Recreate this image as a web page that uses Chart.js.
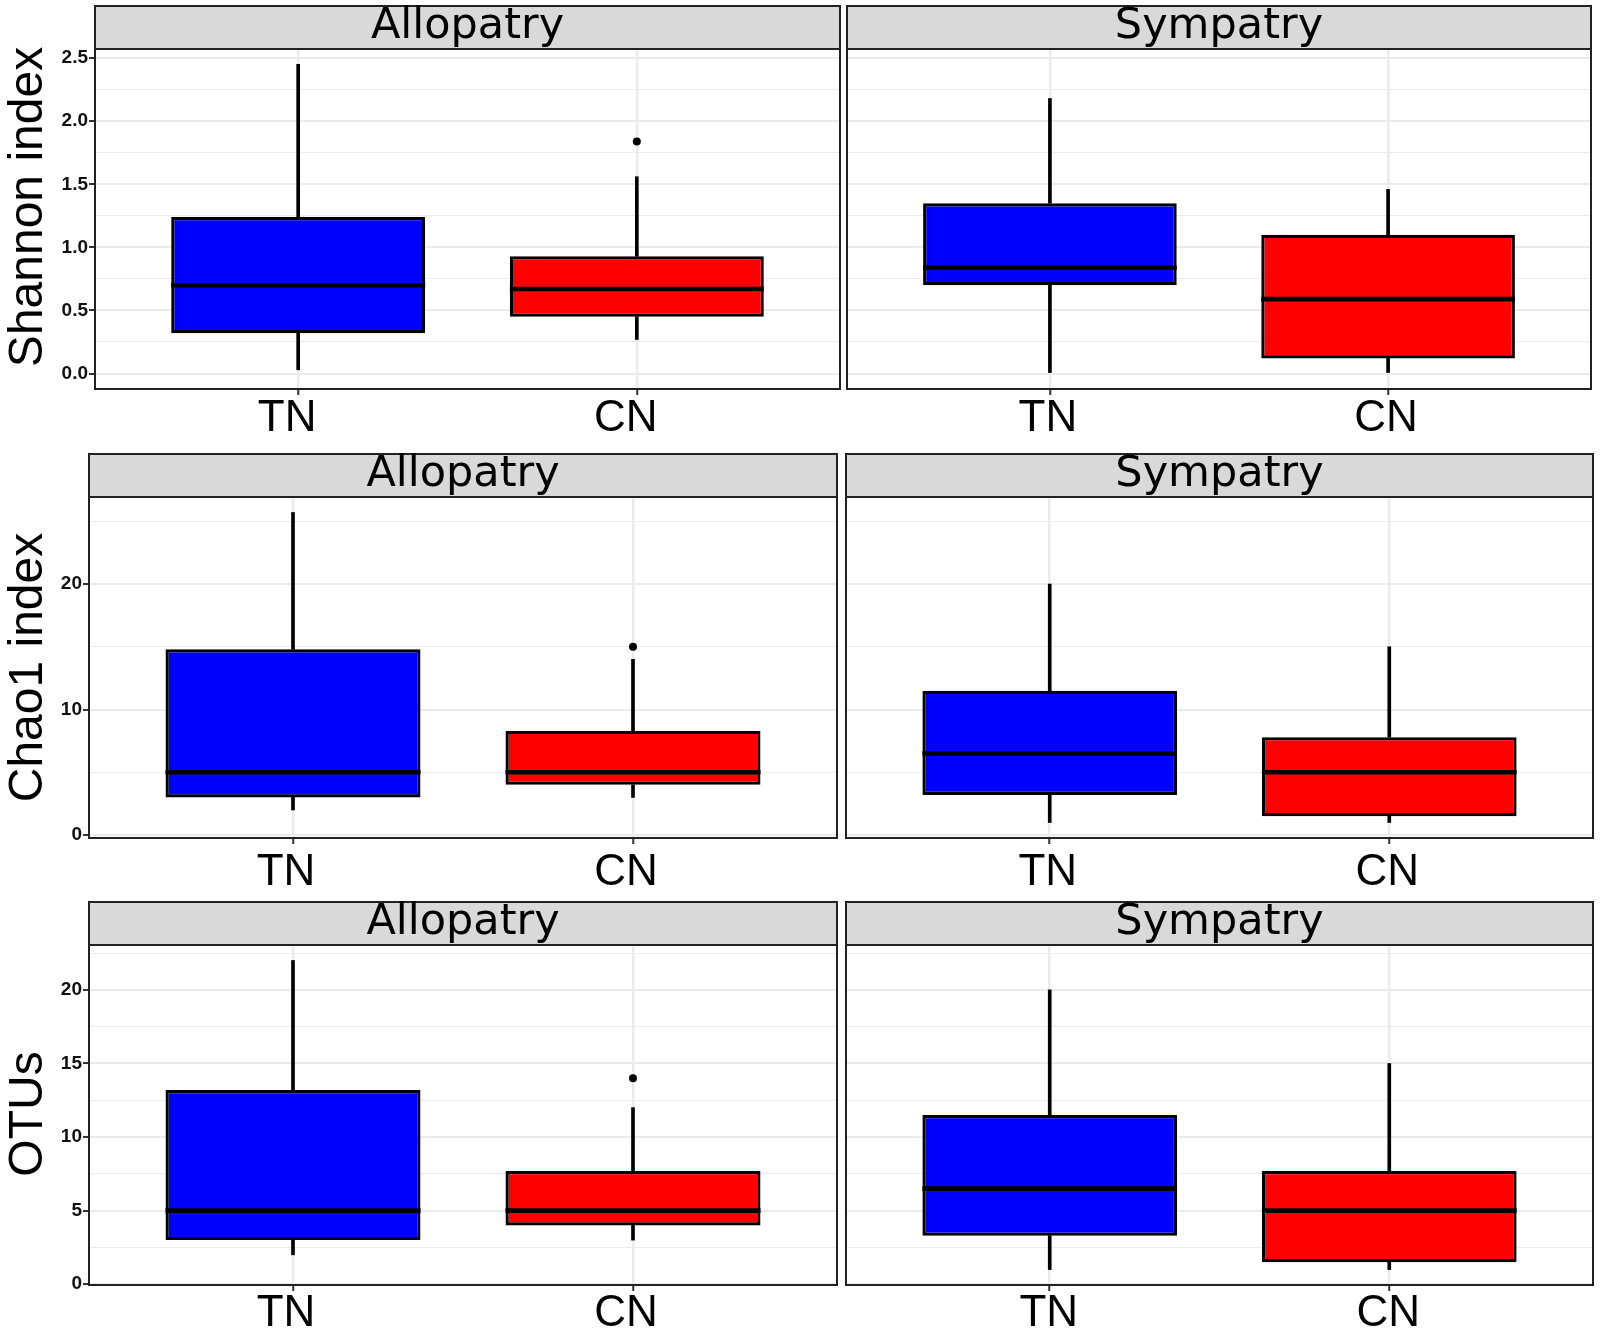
<!DOCTYPE html>
<html>
<head>
<meta charset="utf-8">
<script src="https://cdn.jsdelivr.net/npm/chart.js@4.4.0/dist/chart.umd.min.js"></script>
<style>
  body { margin: 0; background: #fff; }
  #wrap { position: relative; width: 1600px; height: 1328px; }
  canvas { position: absolute; }
</style>
</head>
<body>
<div id="wrap"></div>
<script>
// グループとファセット
const groups = ['TN', 'CN'];
const sites = ['Allopatry', 'Sympatry'];
const metrics = ['Shannon index', 'Chao1 index', 'OTUs'];

// 箱ひげの5数要約 [下ひげ, Q1, 中央値, Q3, 上ひげ]（TN, CN の順）
const shannonAllopatry = [[0.03, 0.32, 0.70, 1.24, 2.45], [0.27, 0.45, 0.67, 0.93, 1.56]];
const shannonSympatry  = [[0.00, 0.70, 0.84, 1.35, 2.18], [0.00, 0.12, 0.59, 1.10, 1.46]];
const chao1Allopatry   = [[2, 3, 5, 14.8, 25.7], [3, 4, 5, 8.3, 14]];
const chao1Sympatry    = [[1, 3.2, 6.5, 11.5, 20], [1, 1.5, 5, 7.8, 15]];
const otusAllopatry    = [[2, 3, 5, 13.2, 22], [3, 4, 5, 7.7, 12]];
const otusSympatry     = [[1, 3.3, 6.5, 11.5, 20], [1, 1.5, 5, 7.7, 15]];

// 外れ値（TN, CN の順）
const shannonAllopatryOut = [[], [1.84]];
const shannonSympatryOut  = [[], []];
const chao1AllopatryOut   = [[], [15]];
const chao1SympatryOut    = [[], []];
const otusAllopatryOut    = [[], [14]];
const otusSympatryOut     = [[], []];

// Y軸の主目盛り
const shannonTicks = [0, 0.5, 1, 1.5, 2, 2.5];
const chao1Ticks = [0, 10, 20];
const otusTicks = [0, 5, 10, 15, 20];

const fills = ['#0000ff', '#ff0000'];
const boxWidth = 0.75; // 箱の幅（カテゴリ間隔に対する比）

// 各行のレイアウト（ピクセル）
const rows = [
  { title: metrics[0], panels: [shannonAllopatry, shannonSympatry], outs: [shannonAllopatryOut, shannonSympatryOut],
    ticks: shannonTicks, digits: 1, top: 0, height: 445, pTop: 49, pBot: 389, xL: [95, 840], xR: [847, 1591],
    titleShift: -12, labelShift: [-11, -2], labelPad: 2 },
  { title: metrics[1], panels: [chao1Allopatry, chao1Sympatry], outs: [chao1AllopatryOut, chao1SympatryOut],
    ticks: chao1Ticks, digits: 0, top: 445, height: 445, pTop: 497, pBot: 838, xL: [89, 837], xR: [846, 1593],
    titleShift: 0, labelShift: [-7, -2], labelPad: 7 },
  { title: metrics[2], panels: [otusAllopatry, otusSympatry], outs: [otusAllopatryOut, otusSympatryOut],
    ticks: otusTicks, digits: 0, top: 890, height: 438, pTop: 945, pBot: 1285, xL: [89, 837], xR: [846, 1593],
    titleShift: -1, labelShift: [-7, -1], labelPad: 1 }
];

// ストリップ・枠・Y軸タイトルを描くプラグイン
const facetPlugin = {
  id: 'facet',
  afterDraw(chart, args, opts) {
    const { ctx, chartArea: a } = chart;
    const stripH = 43;
    ctx.save();
    ctx.fillStyle = '#d9d9d9';
    ctx.fillRect(a.left, a.top - stripH, a.right - a.left, stripH);
    ctx.strokeStyle = '#222';
    ctx.lineWidth = 2;
    ctx.strokeRect(a.left, a.top - stripH, a.right - a.left, stripH);
    ctx.fillStyle = '#000';
    ctx.font = '43px "DejaVu Sans"';
    ctx.textAlign = 'center';
    ctx.textBaseline = 'alphabetic';
    ctx.fillText(opts.label, (a.left + a.right) / 2, a.top - 11);
    ctx.strokeRect(a.left, a.top, a.right - a.left, a.bottom - a.top);
    if (opts.yTitle) {
      ctx.translate(42, (a.top + a.bottom) / 2 + opts.titleShift);
      ctx.rotate(-Math.PI / 2);
      ctx.font = '48px "Liberation Sans", Arial';
      ctx.fillText(opts.yTitle, 0, 0);
    }
    ctx.restore();
  }
};

const wrap = document.getElementById('wrap');

rows.forEach(row => {
  // ggplot風に上下5%拡張
  const all = row.panels.flat(2).concat(row.outs.flat(2));
  const dMin = Math.min(...all), dMax = Math.max(...all);
  const lo = dMin - 0.05 * (dMax - dMin);
  const hi = dMax + 0.05 * (dMax - dMin);
  const major = row.ticks[1] - row.ticks[0];
  const minor = major / 2;
  const tickVals = [];
  for (let v = Math.ceil(lo / minor) * minor; v <= hi + 1e-9; v += minor) tickVals.push(+v.toFixed(6));
  const isMajor = v => Math.abs(v / major - Math.round(v / major)) < 1e-6;

  [0, 1].forEach(col => {
    const stats = row.panels[col];
    const outs = row.outs[col];
    const cLeft = col === 0 ? 0 : 843;
    const cWidth = col === 0 ? 843 : 757;
    const [pl, pr] = col === 0 ? row.xL : row.xR;
    const showY = col === 0;

    const canvas = document.createElement('canvas');
    canvas.width = cWidth;
    canvas.height = row.height;
    canvas.style.left = cLeft + 'px';
    canvas.style.top = row.top + 'px';
    canvas.style.width = cWidth + 'px';
    canvas.style.height = row.height + 'px';
    wrap.appendChild(canvas);

    const whiskerBase = {
      type: 'bar', grouped: false, backgroundColor: '#000', borderWidth: 0, barThickness: 3, order: 3
    };
    // 中央値の線（各グループの箱の幅だけ、間は null で切る）
    const medianPts = [];
    stats.forEach((s, i) => {
      medianPts.push({ x: i + 1 - boxWidth / 2, y: s[2] }, { x: i + 1 + boxWidth / 2, y: s[2] }, { x: i + 1.5, y: null });
    });
    const outPoints = [];
    outs.forEach((list, i) => list.forEach(v => outPoints.push({ x: i + 1, y: v })));

    new Chart(canvas, {
      type: 'bar',
      data: {
        datasets: [
          { type: 'bar', grouped: false, data: stats.map((s, i) => ({ x: i + 1, y: [s[1], s[3]] })),
            backgroundColor: fills, borderColor: '#000', borderWidth: 3.2, borderSkipped: false,
            barPercentage: boxWidth, categoryPercentage: 1, order: 2 },
          { ...whiskerBase, data: stats.map((s, i) => ({ x: i + 1, y: [s[3], s[4]] })) },
          { ...whiskerBase, data: stats.map((s, i) => ({ x: i + 1, y: [s[0], s[1]] })) },
          { type: 'line', data: medianPts, borderColor: '#000', borderWidth: 4.6, borderCapStyle: 'butt',
            pointRadius: 0, spanGaps: false, fill: false, order: 1 },
          { type: 'scatter', data: outPoints, pointRadius: 4, backgroundColor: '#000', borderColor: '#000', borderWidth: 0, order: 0 }
        ]
      },
      options: {
        responsive: false,
        animation: false,
        events: [],
        layout: { autoPadding: false, padding: { left: 0, top: row.pTop - row.top, right: cLeft + cWidth - pr, bottom: 0 } },
        plugins: {
          legend: { display: false },
          tooltip: { enabled: false },
          facet: { label: sites[col], yTitle: showY ? row.title : null, titleShift: row.titleShift }
        },
        scales: {
          x: {
            type: 'linear', min: 0.4, max: 2.6, offset: false,
            afterBuildTicks: s => { s.ticks = groups.map((g, i) => ({ value: i + 1 })); },
            afterFit: s => { s.height = row.top + row.height - row.pBot; },
            border: { display: false },
            grid: { offset: false, color: '#ebebeb', lineWidth: 2.5, tickColor: '#333', tickLength: 6, tickWidth: 2 },
            ticks: {
              callback: v => groups[Math.round(v) - 1],
              font: { family: '"Liberation Sans", Arial', size: 44, lineHeight: 1 },
              color: '#000', padding: row.labelPad, labelOffset: row.labelShift[col],
              maxRotation: 0, autoSkip: false
            }
          },
          y: {
            type: 'linear', min: lo, max: hi,
            afterBuildTicks: s => { s.ticks = tickVals.map(v => ({ value: v })); },
            afterFit: s => { s.width = pl - cLeft; },
            border: { display: false },
            grid: {
              color: '#ebebeb',
              lineWidth: c => (c.tick && isMajor(c.tick.value)) ? 2 : 1.1,
              drawTicks: showY,
              tickColor: c => (c.tick && isMajor(c.tick.value)) ? '#333' : 'rgba(0,0,0,0)',
              tickLength: 6, tickWidth: 2
            },
            ticks: {
              display: showY,
              autoSkip: false,
              callback: v => isMajor(v) ? v.toFixed(row.digits) : '',
              font: { family: '"Liberation Sans", Arial', size: 19, weight: 'bold' },
              color: '#111', padding: 1
            }
          }
        }
      },
      plugins: [facetPlugin]
    });
  });
});
</script>
</body>
</html>
